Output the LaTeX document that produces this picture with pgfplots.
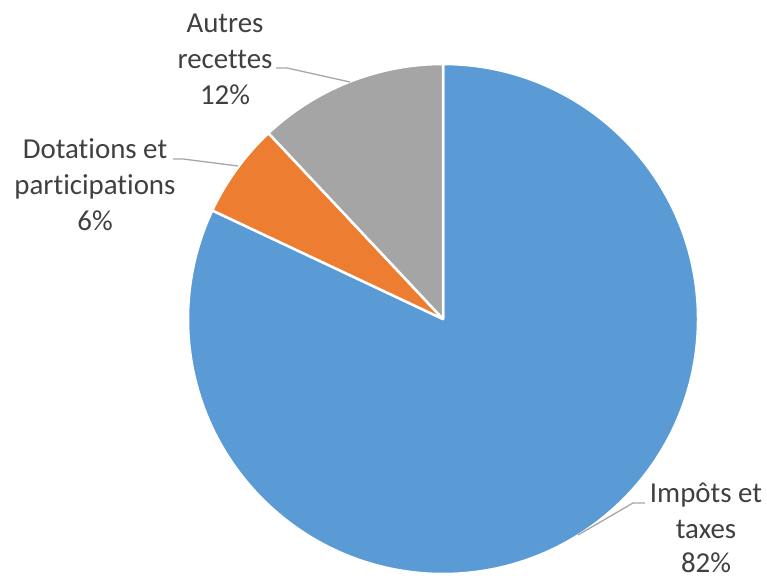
\documentclass[border=0pt]{standalone}
\usepackage{pgfplots}
\usepackage{pgfplotstable}
\pgfplotsset{compat=1.18}
\usepackage{fontspec}
\setmainfont{Carlito}[Ligatures={NoCommon}]
\definecolor{cblue}{HTML}{5B9BD5}
\definecolor{corange}{HTML}{ED7D31}
\definecolor{cgray}{HTML}{A5A5A5}
\definecolor{ctext}{HTML}{404040}
\definecolor{cline}{HTML}{A6A6A6}
\pgfplotstableread{
label value
Impots 82
Dotations 6
Autres 12
}\piedata
\begin{document}
\begin{tikzpicture}
\pgfplotstablegetelem{0}{value}\of\piedata \pgfmathsetmacro{\va}{\pgfplotsretval}
\pgfplotstablegetelem{1}{value}\of\piedata \pgfmathsetmacro{\vb}{\pgfplotsretval}
\pgfplotstablegetelem{2}{value}\of\piedata \pgfmathsetmacro{\vc}{\pgfplotsretval}
\pgfmathsetmacro{\aA}{90}
\pgfmathsetmacro{\aB}{\aA-3.6*\va}
\pgfmathsetmacro{\aC}{\aB-3.6*\vb}
\pgfmathsetmacro{\aD}{\aC-3.6*\vc}
\begin{axis}[x=1pt,y=1pt,xmin=0,xmax=767,ymin=0,ymax=578,hide axis,clip=false,
  font=\fontsize{28.9}{36}\selectfont]
\path (axis cs:0,0) rectangle (axis cs:767,578);
\fill[cblue,draw=white,line width=2.5pt,line join=round] (axis cs:443,259) -- ++(\aA:255pt) arc[start angle=\aA,end angle=\aB,radius=255pt] -- cycle;
\fill[corange,draw=white,line width=2.5pt,line join=round] (axis cs:443,259) -- ++(\aB:255pt) arc[start angle=\aB,end angle=\aC,radius=255pt] -- cycle;
\fill[cgray,draw=white,line width=2.5pt,line join=round] (axis cs:443,259) -- ++(\aC:255pt) arc[start angle=\aC,end angle=\aD,radius=255pt] -- cycle;
\draw[cline,line width=1.3pt] (axis cs:276,510) -- (axis cs:287,510) -- (axis cs:350,496);
\draw[cline,line width=1.3pt] (axis cs:173,419) -- (axis cs:183,419) -- (axis cs:238,412);
\draw[cline,line width=1.3pt] (axis cs:645,75) -- (axis cs:633,75) -- (axis cs:578,43);
\begin{scope}[every node/.style={text=ctext,anchor=base,inner sep=0pt}]
\node at (axis cs:225,545) {Autres};
\node at (axis cs:225,509) {recettes};
\node at (axis cs:225,473) {12\%};
\node at (axis cs:95,419) {Dotations et};
\node at (axis cs:95,383) {participations};
\node at (axis cs:95,347) {6\%};
\node at (axis cs:706,76) {Impôts et};
\node at (axis cs:706,40) {taxes};
\node at (axis cs:706,6) {82\%};
\end{scope}
\end{axis}
\end{tikzpicture}
\end{document}
